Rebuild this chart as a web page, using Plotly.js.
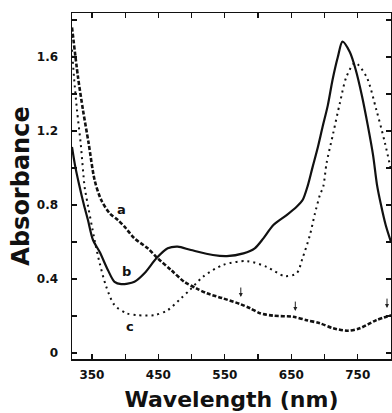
<!DOCTYPE html>
<html>
<head>
<meta charset="utf-8">
<script src="https://cdn.plot.ly/plotly-3.0.1.min.js"></script>
<style>html,body{margin:0;padding:0;background:#fff;}#chart{width:392px;height:413px;}</style>
</head>
<body>
<div id="chart"></div>
<script>
// Curve a (dashed)
const a_x = [320, 329, 336.5, 345, 354, 364, 376.7, 389, 399, 414, 434, 449, 469, 489, 507, 523, 547, 573, 588, 603, 623, 653, 673, 693, 713, 735, 753, 778, 800];
const a_y = [1.76, 1.492, 1.314, 1.135, 0.935, 0.827, 0.755, 0.719, 0.683, 0.62, 0.566, 0.512, 0.449, 0.385, 0.35, 0.323, 0.296, 0.265, 0.242, 0.215, 0.202, 0.196, 0.178, 0.161, 0.134, 0.121, 0.134, 0.178, 0.205];
// Curve b (solid)
const b_x = [320, 324.5, 330.5, 338, 344, 351.6, 361.7, 374, 384, 394, 414, 429, 447, 464, 479, 499, 532, 553, 578, 595, 608, 623, 643, 658, 667, 675, 682, 690, 697, 705, 712, 720, 727, 738, 747, 756, 765, 773, 779, 785, 792, 800];
const b_y = [1.114, 1.016, 0.914, 0.80, 0.719, 0.611, 0.546, 0.449, 0.385, 0.373, 0.385, 0.431, 0.512, 0.566, 0.575, 0.557, 0.53, 0.524, 0.539, 0.566, 0.62, 0.692, 0.746, 0.791, 0.827, 0.908, 1.005, 1.114, 1.222, 1.34, 1.476, 1.6, 1.683, 1.627, 1.53, 1.395, 1.232, 1.07, 0.908, 0.8, 0.692, 0.6];
// Curve c (dotted)
const c_x = [320, 323, 327.5, 333, 339, 341.5, 354, 361.7, 371.6, 384, 402, 419, 444, 464, 484, 497, 517, 547, 583, 613, 640, 658, 667, 678, 685, 693, 698, 703, 713, 723, 733, 746, 763, 778, 791, 800];
const c_y = [1.64, 1.492, 1.314, 1.135, 0.897, 0.845, 0.611, 0.485, 0.358, 0.259, 0.215, 0.205, 0.205, 0.232, 0.296, 0.34, 0.412, 0.476, 0.497, 0.466, 0.416, 0.431, 0.514, 0.638, 0.746, 0.854, 0.899, 1.025, 1.188, 1.35, 1.494, 1.569, 1.494, 1.314, 1.134, 0.989];

// Curve labels
const label_text = ['a', 'b', 'c'];
const label_x = [394, 402, 407];
const label_y = [0.777, 0.44, 0.146];

// Arrow markers (tips)
const arrow_x = [574, 656, 794];
const arrow_y = [0.303, 0.227, 0.243];

// Tick labels
const x_ticks = [350, 450, 550, 650, 750];
const x_ticktext = ['350', '450', '550', '650', '750'];
const y_ticks = [0, 0.4, 0.8, 1.2, 1.6];
const y_ticktext = ['0', '0.4', '0.8', '1.2', '1.6'];

const FONT = 'DejaVu Sans, Liberation Sans, Arial, sans-serif';

const traces = [
  {x: a_x, y: a_y, mode: 'lines', line: {color: '#111', width: 2.6, dash: '4px,2px', shape: 'spline', smoothing: 0.8}, hoverinfo: 'skip'},
  {x: b_x, y: b_y, mode: 'lines', line: {color: '#111', width: 2.2, shape: 'spline', smoothing: 0.8}, hoverinfo: 'skip'},
  {x: c_x, y: c_y, mode: 'lines', line: {color: '#111', width: 2, dash: '2px,4px', shape: 'spline', smoothing: 0.8}, hoverinfo: 'skip'}
];

const annotations = [];
for (let i = 0; i < label_text.length; i++) {
  annotations.push({x: label_x[i], y: label_y[i], xref: 'x', yref: 'y', text: label_text[i], showarrow: false,
    font: {family: FONT, size: 13, weight: 'bold', color: '#111'}});
}
for (let i = 0; i < arrow_x.length; i++) {
  annotations.push({x: arrow_x[i], y: arrow_y[i], xref: 'x', yref: 'y', text: '', showarrow: true,
    ax: 0, ay: -11, arrowhead: 2, arrowsize: 0.8, arrowwidth: 1, arrowcolor: '#222'});
}

const axisCommon = {
  showline: true, linecolor: '#111', linewidth: 1.5, mirror: 'ticks',
  ticks: 'inside', ticklen: 5, tickwidth: 1.2, tickcolor: '#111',
  showgrid: false, zeroline: false,
  tickfont: {family: FONT, size: 12, weight: 'bold', color: '#111'}
};

const layout = {
  width: 392, height: 413,
  margin: {l: 72, r: 1, t: 13, b: 54},
  paper_bgcolor: 'white', plot_bgcolor: 'white',
  showlegend: false,
  font: {family: FONT, color: '#111'},
  xaxis: Object.assign({}, axisCommon, {
    range: [320, 800], tickmode: 'array', tickvals: x_ticks, ticktext: x_ticktext,
    minor: {dtick: 50, tick0: 350, ticks: 'inside', ticklen: 5, tickwidth: 1.2, tickcolor: '#111'},
    ticklabelstandoff: 4,
    title: {text: 'Wavelength (nm)', font: {family: FONT, size: 22, weight: 'bold', color: '#111'}, standoff: 10}
  }),
  yaxis: Object.assign({}, axisCommon, {
    range: [-0.032, 1.838], tickmode: 'array', tickvals: y_ticks, ticktext: y_ticktext,
    minor: {dtick: 0.2, tick0: 0, ticks: 'inside', ticklen: 5, tickwidth: 1.2, tickcolor: '#111'},
    ticklabelstandoff: 10,
    title: {text: 'Absorbance', font: {family: FONT, size: 24, weight: 'bold', color: '#111'}, standoff: 0}
  }),
  annotations: annotations
};

Plotly.newPlot('chart', traces, layout, {staticPlot: true, displayModeBar: false});
</script>
</body>
</html>
